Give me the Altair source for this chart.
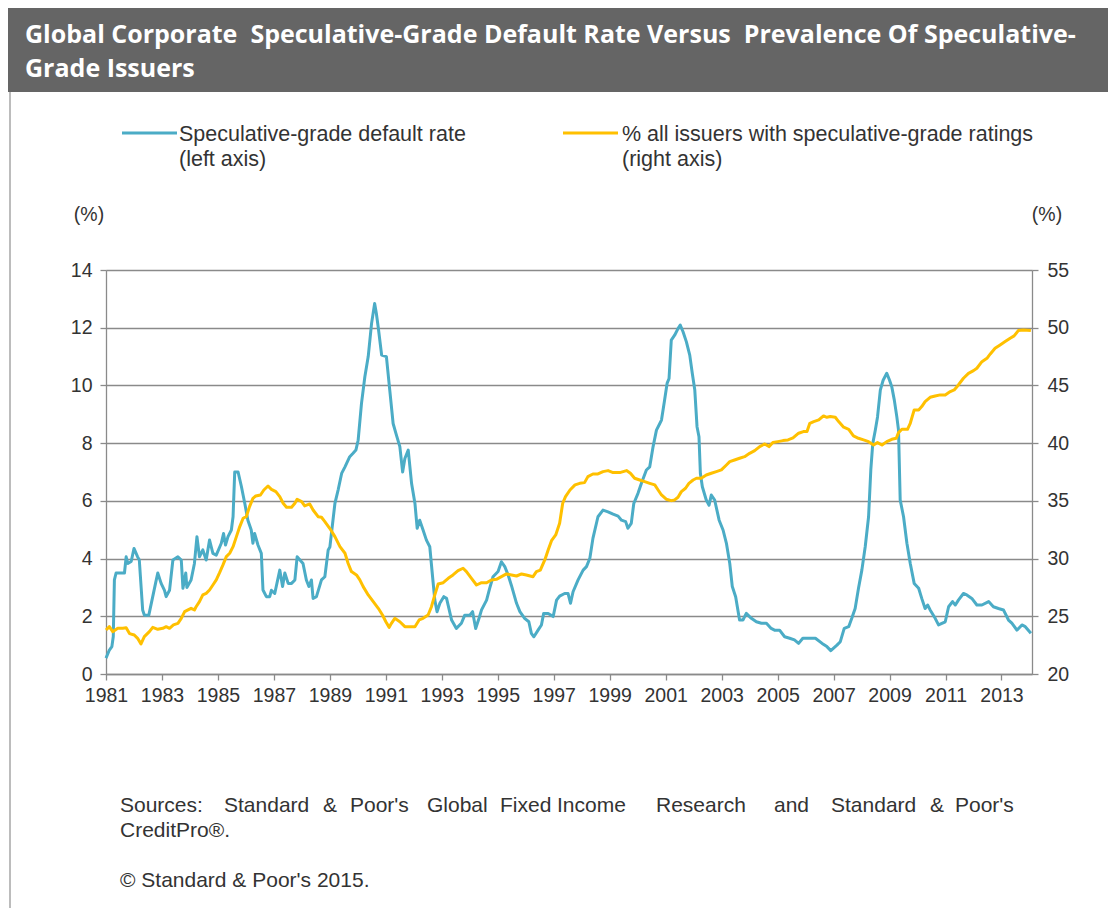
import altair as alt
import pandas as pd

# ---------------- data ----------------
blue_year = [
    1981.00, 1981.12, 1981.21, 1981.26, 1981.30, 1981.36, 1981.66, 1981.72, 1981.78, 1981.90,
    1982.00, 1982.13, 1982.19, 1982.31, 1982.37, 1982.53, 1982.67, 1982.77, 1982.85, 1982.97,
    1983.09, 1983.15, 1983.27, 1983.39, 1983.57, 1983.69, 1983.75, 1983.85, 1983.89, 1984.04,
    1984.16, 1984.25, 1984.34, 1984.46, 1984.58, 1984.70, 1984.82, 1984.94, 1985.12, 1985.20,
    1985.27, 1985.36, 1985.48, 1985.54, 1985.60, 1985.72, 1985.84, 1985.96, 1986.07, 1986.19,
    1986.25, 1986.31, 1986.43, 1986.55, 1986.61, 1986.73, 1986.85, 1986.91, 1987.03, 1987.21,
    1987.31, 1987.39, 1987.51, 1987.63, 1987.75, 1987.83, 1988.04, 1988.16, 1988.25, 1988.34,
    1988.40, 1988.52, 1988.70, 1988.82, 1988.94, 1989.00, 1989.18, 1989.30, 1989.42, 1989.54,
    1989.71, 1989.82, 1989.93, 1990.01, 1990.13, 1990.25, 1990.37, 1990.49, 1990.60, 1990.66,
    1990.73, 1990.85, 1991.02, 1991.14, 1991.26, 1991.36, 1991.50, 1991.60, 1991.68, 1991.80,
    1991.92, 1992.04, 1992.12, 1992.21, 1992.33, 1992.45, 1992.57, 1992.67, 1992.75, 1992.83,
    1992.93, 1993.07, 1993.17, 1993.35, 1993.52, 1993.70, 1993.82, 1994.00, 1994.10, 1994.21,
    1994.33, 1994.42, 1994.60, 1994.71, 1994.83, 1995.01, 1995.13, 1995.25, 1995.37, 1995.49,
    1995.67, 1995.79, 1995.96, 1996.11, 1996.20, 1996.29, 1996.44, 1996.56, 1996.64, 1996.80,
    1996.98, 1997.10, 1997.21, 1997.39, 1997.51, 1997.60, 1997.69, 1997.87, 1998.05, 1998.17,
    1998.29, 1998.40, 1998.58, 1998.76, 1998.94, 1999.12, 1999.30, 1999.42, 1999.57, 1999.65,
    1999.77, 1999.86, 2000.01, 2000.13, 2000.31, 2000.43, 2000.55, 2000.67, 2000.79, 2000.85,
    2000.96, 2001.05, 2001.12, 2001.20, 2001.32, 2001.44, 2001.52, 2001.62, 2001.74, 2001.86,
    2001.95, 2002.04, 2002.12, 2002.19, 2002.24, 2002.31, 2002.45, 2002.55, 2002.63, 2002.75,
    2002.91, 2003.05, 2003.17, 2003.29, 2003.38, 2003.50, 2003.64, 2003.76, 2003.88, 2004.06,
    2004.24, 2004.42, 2004.60, 2004.77, 2004.89, 2005.07, 2005.25, 2005.43, 2005.60, 2005.75,
    2005.90, 2006.35, 2006.59, 2006.76, 2006.90, 2007.12, 2007.24, 2007.38, 2007.54, 2007.65,
    2007.77, 2007.89, 2008.01, 2008.13, 2008.25, 2008.33, 2008.40, 2008.49, 2008.57, 2008.67,
    2008.77, 2008.90, 2009.00, 2009.08, 2009.17, 2009.26, 2009.32, 2009.38, 2009.50, 2009.62,
    2009.74, 2009.88, 2010.04, 2010.15, 2010.27, 2010.36, 2010.45, 2010.63, 2010.75, 2010.99,
    2011.11, 2011.25, 2011.35, 2011.46, 2011.64, 2011.76, 2011.94, 2012.12, 2012.30, 2012.54,
    2012.71, 2012.89, 2013.07, 2013.25, 2013.37, 2013.55, 2013.73, 2013.85, 2014.05,
]
blue_rate = [
    0.55, 0.83, 0.95, 1.30, 3.26, 3.50, 3.50, 4.06, 3.83, 3.90,
    4.35, 4.06, 3.95, 2.22, 2.04, 2.04, 2.68, 3.14, 3.50, 3.14,
    2.90, 2.68, 2.90, 3.95, 4.06, 3.95, 2.97, 3.50, 3.00, 3.26,
    3.83, 4.76, 4.06, 4.30, 3.95, 4.64, 4.18, 4.12, 4.53, 4.87,
    4.47, 4.76, 4.99, 5.45, 7.00, 7.00, 6.49, 5.91, 5.33, 4.99,
    4.53, 4.87, 4.47, 4.18, 2.91, 2.68, 2.68, 2.90, 2.79, 3.60,
    3.03, 3.50, 3.14, 3.14, 3.26, 4.06, 3.83, 3.26, 3.03, 3.26,
    2.62, 2.68, 3.26, 3.37, 4.30, 4.40, 5.91, 6.40, 6.95, 7.18,
    7.53, 7.64, 7.76, 8.10, 9.38, 10.30, 11.00, 12.15, 12.84, 12.50,
    12.00, 11.05, 11.00, 9.84, 8.68, 8.34, 7.88, 7.00, 7.47, 7.76,
    6.60, 5.91, 5.05, 5.33, 4.99, 4.64, 4.41, 3.37, 2.56, 2.16,
    2.45, 2.68, 2.62, 1.87, 1.58, 1.76, 2.04, 2.04, 2.16, 1.58,
    1.93, 2.22, 2.56, 2.97, 3.37, 3.55, 3.89, 3.72, 3.43, 3.06,
    2.45, 2.16, 1.93, 1.81, 1.41, 1.29, 1.52, 1.70, 2.10, 2.10,
    1.99, 2.56, 2.70, 2.79, 2.79, 2.45, 2.85, 3.26, 3.60, 3.72,
    4.01, 4.70, 5.45, 5.68, 5.62, 5.54, 5.47, 5.33, 5.28, 5.05,
    5.22, 5.91, 6.26, 6.60, 7.07, 7.18, 7.88, 8.45, 8.68, 8.80,
    9.49, 10.07, 10.24, 11.57, 11.74, 11.97, 12.09, 11.86, 11.51, 11.05,
    10.42, 9.84, 8.57, 8.22, 6.95, 6.49, 6.03, 5.85, 6.20, 6.03,
    5.33, 4.99, 4.53, 3.83, 3.03, 2.68, 1.87, 1.87, 2.10, 1.93,
    1.81, 1.76, 1.76, 1.58, 1.52, 1.52, 1.29, 1.24, 1.18, 1.06,
    1.24, 1.24, 1.06, 0.95, 0.81, 1.00, 1.12, 1.58, 1.64, 1.93,
    2.27, 2.97, 3.60, 4.41, 5.45, 7.07, 7.99, 8.45, 8.91, 9.84,
    10.18, 10.42, 10.18, 9.95, 9.49, 8.91, 8.45, 6.03, 5.45, 4.53,
    3.83, 3.14, 2.97, 2.62, 2.27, 2.39, 2.22, 1.93, 1.70, 1.81,
    2.33, 2.51, 2.39, 2.56, 2.79, 2.74, 2.62, 2.39, 2.39, 2.51,
    2.33, 2.27, 2.22, 1.87, 1.76, 1.52, 1.70, 1.64, 1.41,
]

yellow_year = [
    1981.00, 1981.12, 1981.24, 1981.42, 1981.60, 1981.72, 1981.84, 1982.01, 1982.13, 1982.25,
    1982.37, 1982.55, 1982.67, 1982.85, 1983.03, 1983.15, 1983.27, 1983.41, 1983.57, 1983.69,
    1983.81, 1983.93, 1984.04, 1984.16, 1984.22, 1984.34, 1984.46, 1984.58, 1984.70, 1984.82,
    1984.94, 1985.06, 1985.18, 1985.30, 1985.42, 1985.54, 1985.66, 1985.78, 1985.90, 1986.01,
    1986.13, 1986.25, 1986.35, 1986.52, 1986.64, 1986.79, 1986.91, 1987.07, 1987.21, 1987.33,
    1987.45, 1987.63, 1987.75, 1987.83, 1987.99, 1988.10, 1988.28, 1988.40, 1988.58, 1988.70,
    1988.82, 1989.00, 1989.18, 1989.36, 1989.54, 1989.65, 1989.77, 1989.95, 1990.07, 1990.19,
    1990.37, 1990.55, 1990.73, 1990.88, 1991.00, 1991.12, 1991.20, 1991.32, 1991.50, 1991.68,
    1991.86, 1992.04, 1992.19, 1992.33, 1992.51, 1992.63, 1992.75, 1992.87, 1993.05, 1993.23,
    1993.40, 1993.58, 1993.76, 1993.88, 1994.06, 1994.24, 1994.42, 1994.60, 1994.77, 1994.95,
    1995.13, 1995.31, 1995.49, 1995.67, 1995.85, 1996.02, 1996.26, 1996.38, 1996.52, 1996.68,
    1996.80, 1996.92, 1997.07, 1997.21, 1997.32, 1997.42, 1997.58, 1997.76, 1997.93, 1998.10,
    1998.22, 1998.40, 1998.58, 1998.76, 1998.94, 1999.12, 1999.36, 1999.60, 1999.74, 1999.89,
    2000.07, 2000.25, 2000.43, 2000.61, 2000.73, 2000.85, 2001.02, 2001.20, 2001.32, 2001.44,
    2001.56, 2001.71, 2001.83, 2001.98, 2002.10, 2002.27, 2002.45, 2002.63, 2002.81, 2002.99,
    2003.17, 2003.29, 2003.46, 2003.64, 2003.82, 2004.00, 2004.18, 2004.36, 2004.54, 2004.69,
    2004.83, 2005.01, 2005.19, 2005.37, 2005.55, 2005.75, 2005.92, 2006.05, 2006.15, 2006.29,
    2006.47, 2006.64, 2006.76, 2006.88, 2007.06, 2007.18, 2007.36, 2007.54, 2007.71, 2007.89,
    2008.07, 2008.25, 2008.43, 2008.57, 2008.73, 2008.90, 2009.08, 2009.24, 2009.32, 2009.44,
    2009.64, 2009.74, 2009.88, 2010.04, 2010.15, 2010.27, 2010.45, 2010.63, 2010.81, 2010.99,
    2011.17, 2011.31, 2011.46, 2011.64, 2011.82, 2012.00, 2012.12, 2012.30, 2012.48, 2012.60,
    2012.77, 2012.95, 2013.13, 2013.31, 2013.45, 2013.60, 2013.78, 2014.05,
]
yellow_share = [
    23.81, 24.10, 23.67, 23.96, 23.96, 24.00, 23.50, 23.38, 23.09, 22.60,
    23.24, 23.67, 24.04, 23.87, 23.96, 24.10, 23.96, 24.25, 24.39, 24.82,
    25.40, 25.55, 25.69, 25.55, 25.83, 26.27, 26.85, 26.99, 27.28, 27.71,
    28.15, 28.78, 29.45, 30.17, 30.46, 31.03, 31.90, 32.77, 33.49, 33.63,
    34.50, 35.22, 35.42, 35.51, 35.94, 36.29, 36.00, 35.80, 35.37, 34.79,
    34.44, 34.44, 34.79, 35.14, 34.93, 34.56, 34.73, 34.21, 33.63, 33.58,
    33.20, 32.60, 31.90, 31.03, 30.46, 29.59, 28.87, 28.58, 28.15, 27.57,
    26.85, 26.27, 25.69, 25.11, 24.53, 24.04, 24.39, 24.82, 24.53, 24.10,
    24.10, 24.10, 24.68, 24.82, 25.11, 25.83, 26.85, 27.80, 27.91, 28.29,
    28.58, 28.95, 29.16, 28.87, 28.29, 27.71, 27.91, 27.91, 28.15, 28.20,
    28.43, 28.67, 28.58, 28.49, 28.67, 28.58, 28.43, 28.87, 29.00, 29.88,
    30.74, 31.55, 32.05, 33.06, 34.79, 35.37, 35.94, 36.38, 36.52, 36.58,
    37.10, 37.33, 37.33, 37.53, 37.62, 37.45, 37.45, 37.62, 37.39, 36.96,
    36.81, 36.67, 36.52, 36.38, 35.94, 35.51, 35.14, 35.02, 35.08, 35.31,
    35.80, 36.09, 36.52, 36.81, 36.96, 36.96, 37.24, 37.39, 37.53, 37.68,
    38.11, 38.40, 38.54, 38.69, 38.83, 39.12, 39.35, 39.70, 39.93, 39.70,
    40.05, 40.13, 40.22, 40.28, 40.45, 40.86, 41.00, 41.00, 41.72, 41.87,
    42.01, 42.36, 42.24, 42.30, 42.24, 41.87, 41.38, 41.20, 40.62, 40.42,
    40.28, 40.13, 39.84, 40.05, 39.84, 40.13, 40.33, 40.42, 40.91, 41.20,
    41.20, 41.72, 42.88, 42.88, 43.17, 43.60, 43.97, 44.09, 44.18, 44.18,
    44.47, 44.61, 45.04, 45.62, 46.05, 46.28, 46.49, 47.06, 47.35, 47.73,
    48.22, 48.51, 48.80, 49.09, 49.29, 49.75, 49.81, 49.75,
]

x_ticks = list(range(1981, 2014, 2))
left_ticks = [0, 2, 4, 6, 8, 10, 12, 14]
right_ticks = [20, 25, 30, 35, 40, 45, 50, 55]

NB = "\u00a0"
title_lines = [
    "Global Corporate " + NB + "Speculative-Grade Default Rate Versus " + NB
    + "Prevalence Of Speculative-",
    "Grade Issuers",
]
legend_blue = ["Speculative-grade default rate", "(left axis)"]
legend_yellow = ["% all issuers with speculative-grade ratings", "(right axis)"]
source_words = ["Sources:", "Standard", "&", "Poor's", "Global", "Fixed", "Income",
                "Research", "and", "Standard", "&", "Poor's"]
source_line2 = "CreditPro®."
copyright_text = "© Standard & Poor's 2015."

# ---------------- styling ----------------
BLUE = "#4BACC6"
YELLOW = "#FFC000"
GRID = "#8a8a8a"
TXT = "#333333"
FONT = "Liberation Sans"
W, H = 926, 404
PAD = {"left": 98, "top": 262, "right": 76, "bottom": 234}

df_b = pd.DataFrame({"year": blue_year, "rate": blue_rate})
df_y = pd.DataFrame({"year": yellow_year, "share": yellow_share})
dummy = pd.DataFrame({"d": [0]})

x_scale = alt.Scale(domain=[1981, 2014.09], nice=False, zero=False)


def make_x_axis():
    return alt.Axis(values=x_ticks, format="d", title=None, grid=False,
                    domainColor=GRID, domainWidth=1.3, tickColor=GRID, tickWidth=1.3,
                    tickSize=6, labelFont=FONT, labelFontSize=19.5, labelColor=TXT,
                    labelPadding=6, labelFlush=False, labelOverlap=False)


left_axis = alt.Axis(values=left_ticks, title=None, orient="left", grid=True,
                     gridColor=GRID, gridWidth=1.3, domainColor=GRID, domainWidth=1.3,
                     tickColor=GRID, tickWidth=1.3, tickSize=6, labelFont=FONT,
                     labelFontSize=19.5, labelColor=TXT, labelPadding=8)

right_axis = alt.Axis(values=right_ticks, title=None, orient="right", grid=False,
                      domainColor=GRID, domainWidth=1.3, tickColor=GRID, tickWidth=1.3,
                      tickSize=6, labelFont=FONT, labelFontSize=19.5, labelColor=TXT,
                      labelPadding=9)

blue_line = alt.Chart(df_b).mark_line(color=BLUE, strokeWidth=3, strokeJoin="round").encode(
    x=alt.X("year:Q", scale=x_scale, axis=make_x_axis()),
    y=alt.Y("rate:Q", scale=alt.Scale(domain=[0, 14], nice=False), axis=left_axis),
)

yellow_line = alt.Chart(df_y).mark_line(color=YELLOW, strokeWidth=3, strokeJoin="round").encode(
    x=alt.X("year:Q", scale=x_scale, axis=make_x_axis()),
    y=alt.Y("share:Q", scale=alt.Scale(domain=[20, 55], nice=False), axis=right_axis),
)


def txt(s, x, y, size=21, color=TXT, font=FONT, weight="normal", align="left"):
    return alt.Chart(dummy).mark_text(
        text=s, font=font, fontSize=size, color=color, fontWeight=weight,
        align=align, baseline="middle"
    ).encode(x=alt.value(x), y=alt.value(y))


def rule(x1, x2, y, color, width=3.0):
    return alt.Chart(dummy).mark_rule(color=color, strokeWidth=width).encode(
        x=alt.value(x1), x2=alt.value(x2), y=alt.value(y))


header = alt.Chart(dummy).mark_rect(color="#656565").encode(
    x=alt.value(-PAD["left"]), x2=alt.value(W + PAD["right"]),
    y=alt.value(-PAD["top"]), y2=alt.value(-178))

border = alt.Chart(dummy).mark_rule(color="#a6a6a6", strokeWidth=1.5).encode(
    x=alt.value(-96), y=alt.value(-178), y2=alt.value(H + PAD["bottom"]))

deco = [header, border,
        txt(title_lines[0], -81, -235, size=25, color="white", font="Open Sans", weight="bold"),
        txt(title_lines[1], -81, -201, size=25, color="white", font="Open Sans", weight="bold"),
        rule(16, 71, -137, BLUE),
        txt(legend_blue[0], 73, -135, size=21.5),
        txt(legend_blue[1], 73, -110, size=21.5),
        rule(457, 512, -137, YELLOW),
        txt(legend_yellow[0], 516, -135, size=21.5),
        txt(legend_yellow[1], 516, -110, size=21.5),
        txt("(%)", -17, -55, size=19.5, align="center"),
        txt("(%)", 941, -55, size=19.5, align="center")]

word_x = [14, 118, 217, 244, 321, 394, 451, 550, 668, 725, 824, 849]
for w_, xx in zip(source_words, word_x):
    deco.append(txt(w_, xx, 536))
deco.append(txt(source_line2, 14, 561))
deco.append(txt(copyright_text, 14, 611))

chart = alt.layer(blue_line, yellow_line, *deco).resolve_scale(
    y="independent"
).properties(
    width=W, height=H,
    padding=PAD,
    autosize=alt.AutoSizeParams(type="none"),
).configure_view(stroke=None).configure(background="white")

chart.save("out.html", embed_options={"renderer": "svg", "actions": False})
